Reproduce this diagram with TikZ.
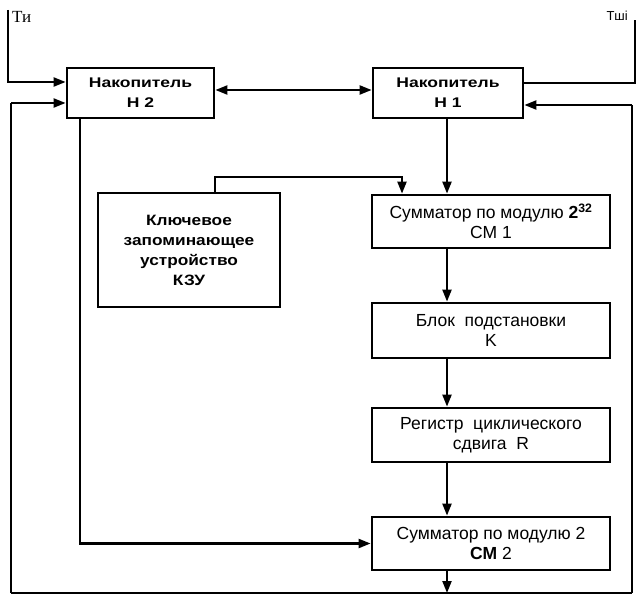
\documentclass[tikz,border=0pt]{standalone}
\usepackage{fontspec}
\setmainfont{Liberation Sans}
\newfontfamily\wideb[FakeStretch=1.25]{Liberation Sans}
\newfontfamily\kzub[FakeStretch=1.15]{Liberation Sans}
\newfontfamily\serifT{Liberation Serif}
\usetikzlibrary{arrows.meta}
\tikzset{
  blk/.style={draw, line width=2.8pt, align=center, inner sep=0pt},
  conn/.style={line width=2.2pt, -{Triangle[length=12pt,width=9pt]}},
  plain/.style={line width=2.2pt},
  bconn/.style={line width=2.2pt, {Triangle[length=12pt,width=9pt]}-{Triangle[length=12pt,width=9pt]}},
}
\begin{document}
\begin{tikzpicture}[x=1pt,y=-1pt]
\useasboundingbox (0,0) rectangle (639,596);
% boxes
\node[blk, minimum width=147pt, minimum height=50pt, font=\wideb\bfseries\fontsize{14}{20}\selectfont] (h2) at (140.5,93) {Накопитель\\Н 2};
\node[blk, minimum width=150pt, minimum height=50pt, font=\wideb\bfseries\fontsize{14}{20}\selectfont] (h1) at (448,93) {Накопитель\\Н 1};
\node[blk, minimum width=182pt, minimum height=114pt, font=\kzub\bfseries\fontsize{15}{20}\selectfont] (kzu) at (189,250) {Ключевое\\запоминающее\\устройство\\КЗУ};
\node[blk, minimum width=238pt, minimum height=53pt, font=\fontsize{17.5}{20}\selectfont] (cm1) at (491,221.5) {Сумматор по модулю \textbf{2}$^{\mathbf{32}}$\\СМ 1};
\node[blk, minimum width=238pt, minimum height=55pt, font=\fontsize{17.5}{20}\selectfont] (k) at (491,330.5) {Блок\ \ подстановки\\K};
\node[blk, minimum width=238pt, minimum height=54pt, font=\fontsize{17.5}{20}\selectfont] (r) at (491,435) {Регистр\ \ циклического\\сдвига\ \ R};
\node[blk, minimum width=238pt, minimum height=53pt, font=\fontsize{17.5}{20}\selectfont] (cm2) at (491,543.5) {Сумматор по модулю 2\\\textbf{СМ} 2};
% labels
\node[font=\serifT\fontsize{17}{17}\selectfont, anchor=west, inner sep=0pt] (ti) at (12,17) {Ти};
\node[font=\fontsize{13}{13}\selectfont, anchor=east, inner sep=0pt] (tshi) at (628,16) {Тші};
% coordinates
\coordinate (tiTop) at (8,10);
\coordinate (tiC) at (8,82);
\coordinate (tsTop) at (635,20);
\coordinate (tsC) at (635,83);
\coordinate (fb) at (447,593);
\coordinate (fbL) at (11,593);
\coordinate (fbLt) at (11,103);
\coordinate (fbR) at (632,593);
\coordinate (fbRt) at (632,105);
\coordinate (h2b) at (80,118);
\coordinate (h2c) at (80,543.5);
\coordinate (kzuT) at (215,193);
\coordinate (kzuA) at (215,177);
\coordinate (kzuB) at (402,177);
% connectors
\draw[conn] (tiTop) -- (tiC) -- (tiC -| h2.west);
\draw[conn] (fbLt) -- (fbLt -| h2.west);
\draw[plain] (fbL) -- (fbLt);
\draw[bconn] (h2.east |- 0,90) -- (h1.west |- 0,90);
\draw[plain] (h1.east |- tsC) -- (tsC) -- (tsTop);
\draw[conn] (fbRt) -- (fbRt -| h1.east);
\draw[plain] (fbR) -- (fbRt);
\draw[plain] (fbL) -- (fbR);
\draw[conn] (h1.south -| fb) -- (cm1.north -| fb);
\draw[conn] (kzuT) -- (kzuA) -- (kzuB) -- (kzuB |- cm1.north);
\draw[conn] (cm1.south -| fb) -- (k.north -| fb);
\draw[conn] (k.south -| fb) -- (r.north -| fb);
\draw[conn] (r.south -| fb) -- (cm2.north -| fb);
\draw[conn] (cm2.south -| fb) -- (fb);
\draw[conn] (h2b) -- (h2c) -- (cm2.west);
\end{tikzpicture}
\end{document}
